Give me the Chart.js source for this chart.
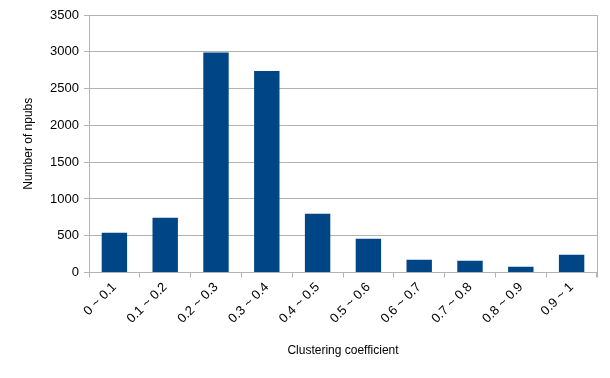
<!DOCTYPE html>
<html>
<head>
<meta charset="utf-8">
<script src="https://cdn.jsdelivr.net/npm/chart.js@4/dist/chart.umd.min.js"></script>
<style>
  html, body { margin: 0; padding: 0; background: #fff; }
  #wrap { width: 610px; height: 378px; }
</style>
</head>
<body>
<div id="wrap"><canvas id="chart" width="610" height="378"></canvas></div>
<script>
// bins of clustering coefficient
const categories = ["0 ~ 0.1", "0.1 ~ 0.2", "0.2 ~ 0.3", "0.3 ~ 0.4", "0.4 ~ 0.5",
                    "0.5 ~ 0.6", "0.6 ~ 0.7", "0.7 ~ 0.8", "0.8 ~ 0.9", "0.9 ~ 1"];
const npubCounts = [540, 745, 2990, 2740, 800, 460, 173, 160, 78, 241];
const yTicks = [0, 500, 1000, 1500, 2000, 2500, 3000, 3500];

const gridColor = "#b3b3b3";
const font = "'Liberation Sans', Arial, sans-serif";

// closing frame line on the right side of the plot
const rightEdge = {
  id: "rightEdge",
  beforeDatasetsDraw(chart) {
    const { ctx, chartArea: a } = chart;
    ctx.save();
    ctx.strokeStyle = gridColor;
    ctx.lineWidth = 1;
    ctx.beginPath();
    ctx.moveTo(Math.round(a.right) + 0.5, a.top);
    ctx.lineTo(Math.round(a.right) + 0.5, a.bottom + 5);
    ctx.stroke();
    ctx.restore();
  }
};

new Chart(document.getElementById("chart"), {
  type: "bar",
  data: {
    labels: categories,
    datasets: [{
      data: npubCounts,
      backgroundColor: "#004586",
      barPercentage: 0.5,
      categoryPercentage: 1
    }]
  },
  options: {
    responsive: false,
    animation: false,
    layout: { padding: { left: 17, top: 15, right: 13, bottom: 16 } },
    plugins: { legend: { display: false }, tooltip: { enabled: false } },
    scales: {
      x: {
        offset: true,
        grid: {
          offset: true,
          tickLength: 5,
          tickColor: gridColor,
          drawOnChartArea: false
        },
        border: { color: gridColor },
        ticks: {
          minRotation: 45, maxRotation: 45, padding: 2,
          color: "#000", font: { family: font, size: 13 }
        },
        title: {
          display: true, text: "Clustering coefficient",
          color: "#000", font: { family: font, size: 12 }
        },
        afterFit: axis => { axis.height = 89.5; }
      },
      y: {
        min: 0, max: 3500,
        afterBuildTicks: axis => { axis.ticks = yTicks.map(v => ({ value: v })); },
        grid: { color: gridColor, tickLength: 5 },
        border: { color: gridColor },
        ticks: {
          padding: 5, color: "#000", font: { family: font, size: 13 },
          callback: v => String(v)
        },
        title: {
          display: true, text: "Number of npubs",
          color: "#000", font: { family: font, size: 12 }
        },
        afterFit: axis => { axis.width = 72; }
      }
    }
  },
  plugins: [rightEdge]
});
</script>
</body>
</html>
